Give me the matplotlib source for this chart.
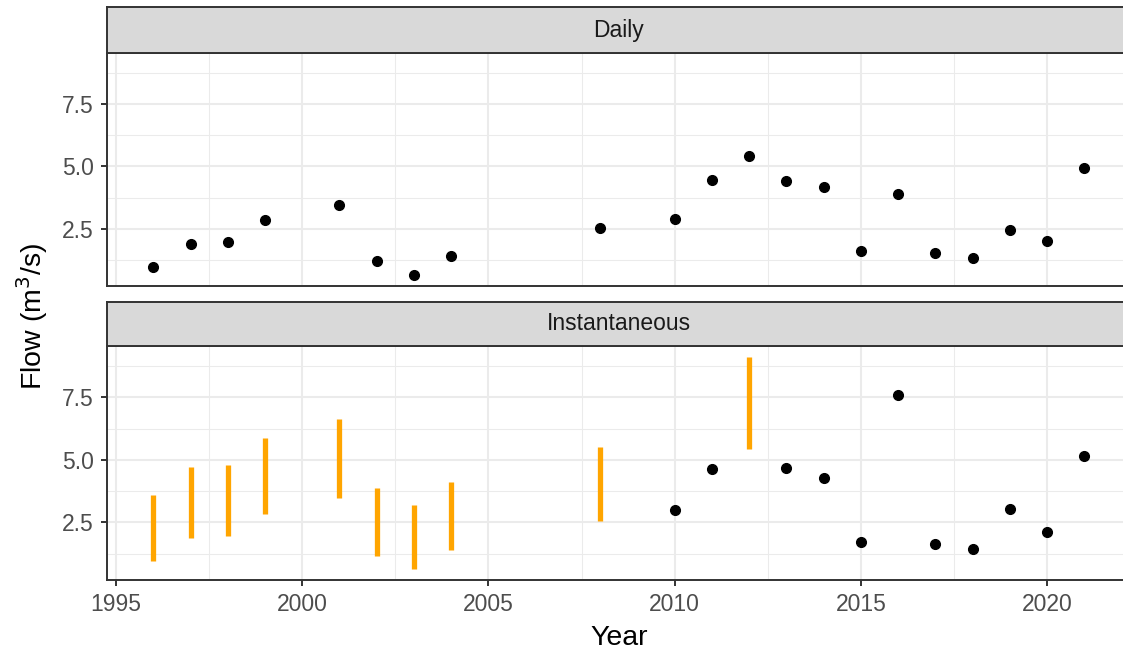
import matplotlib
matplotlib.use("Agg")
import matplotlib.pyplot as plt
from matplotlib.ticker import MultipleLocator

plt.rcParams['font.family'] = ['Liberation Sans', 'DejaVu Sans']

# annual peak flow, daily mean
daily_years = [1996, 1997, 1998, 1999, 2001, 2002, 2003, 2004, 2008, 2010, 2011,
               2012, 2013, 2014, 2015, 2016, 2017, 2018, 2019, 2020, 2021]
daily_flow = [0.97, 1.90, 1.95, 2.85, 3.46, 1.18, 0.62, 1.41, 2.54, 2.90, 4.45,
              5.43, 4.41, 4.18, 1.62, 3.90, 1.54, 1.33, 2.43, 2.02, 4.93]

# annual peak flow, instantaneous (measured)
inst_years = [2010, 2011, 2013, 2014, 2015, 2016, 2017, 2018, 2019, 2020, 2021]
inst_flow = [2.99, 4.63, 4.69, 4.27, 1.71, 7.58, 1.63, 1.42, 3.05, 2.10, 5.17]

# instantaneous peaks estimated as a range where no record exists
est_years = [1996, 1997, 1998, 1999, 2001, 2002, 2003, 2004, 2008, 2012]
est_low = [0.97, 1.89, 1.94, 2.85, 3.47, 1.17, 0.63, 1.39, 2.55, 5.45]
est_high = [3.61, 4.70, 4.78, 5.89, 6.62, 3.86, 3.19, 4.13, 5.50, 9.13]

panel_titles = ["Daily", "Instantaneous"]

W, H = 1123, 651
fig = plt.figure(figsize=(W / 100, H / 100), dpi=100)

def frac(x0, y0, x1, y1):
    # pixel box (from top-left) -> figure fraction rect
    return [x0 / W, 1 - y1 / H, (x1 - x0) / W, (y1 - y0) / H]

border = '#333333'
grid_col = '#EBEBEB'
fs = 16.5

all_years = daily_years + inst_years + est_years
all_vals = daily_flow + inst_flow + est_low + est_high
xr = max(all_years) - min(all_years)
yr = max(all_vals) - min(all_vals)
xlim = (min(all_years) - 0.05 * xr, max(all_years) + 0.05 * xr)
ylim = (min(all_vals) - 0.05 * yr, max(all_vals) + 0.05 * yr)

left, right = 106.7, 1131
panels = [(53, 286), (346, 580)]
strips = [(7, 53), (302, 346)]

axes = []
for i, ((p0, p1), (s0, s1)) in enumerate(zip(panels, strips)):
    ax = fig.add_axes(frac(left, p0, right, p1))
    ax.set_xlim(*xlim)
    ax.set_ylim(*ylim)
    ax.xaxis.set_major_locator(MultipleLocator(5))
    ax.xaxis.set_minor_locator(MultipleLocator(2.5))
    ax.yaxis.set_major_locator(MultipleLocator(2.5))
    ax.yaxis.set_minor_locator(MultipleLocator(1.25))
    ax.grid(True, which='major', color=grid_col, lw=1.5)
    ax.grid(True, which='minor', color=grid_col, lw=0.75)
    ax.set_axisbelow(True)
    for sp in ax.spines.values():
        sp.set_color(border)
        sp.set_linewidth(1.4)
    ax.tick_params(which='major', direction='out', length=4.3, width=1.4,
                   color=border, labelsize=fs, labelcolor='#4D4D4D', pad=5)
    ax.tick_params(which='minor', length=0)
    ax.set_yticks([2.5, 5.0, 7.5])
    ax.set_yticklabels(['2.5', '5.0', '7.5'])
    if i == 0:
        ax.tick_params(axis='x', which='both', bottom=False, labelbottom=False)

    sax = fig.add_axes(frac(left, s0, right, s1))
    sax.set_facecolor('#D9D9D9')
    sax.set_xticks([])
    sax.set_yticks([])
    for sp in sax.spines.values():
        sp.set_color(border)
        sp.set_linewidth(1.4)
    sax.text(0.5, 0.5, panel_titles[i], transform=sax.transAxes, ha='center',
             va='center', fontsize=fs, color='#1A1A1A')
    axes.append(ax)

ax_d, ax_i = axes
ax_d.plot(daily_years, daily_flow, 'o', color='black', markersize=7, zorder=3)

ax_i.vlines(est_years, est_low, est_high, color='#FFA500', lw=3.8, zorder=3)
ax_i.plot(inst_years, inst_flow, 'o', color='black', markersize=7, zorder=3)

fig.text(619 / W, 1 - 645 / H, 'Year', ha='center', va='baseline', fontsize=20.5)
fig.text(32 / W, 1 - 316 / H, 'Flow (m$^3$/s)', ha='center', va='center',
         rotation=90, fontsize=20.5)

fig.savefig('out.png', dpi=100)
